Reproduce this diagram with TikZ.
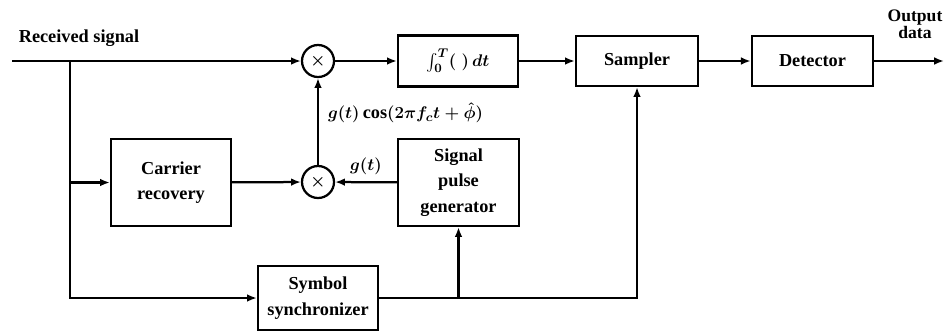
\documentclass[tikz,border=0pt]{standalone}
\usepackage{amsmath}
\usepackage{fontspec}
\setmainfont{Liberation Serif}
\usetikzlibrary{arrows.meta, positioning}

\begin{document}
\begin{tikzpicture}[
  x=0.025cm, y=-0.025cm,
  every node/.style={font=\fontsize{13}{18}\selectfont\bfseries\boldmath},
  line width=1.6pt,
  >={Latex[length=7pt,width=5.5pt]},
  blk/.style={draw, align=center, inner sep=1pt},
  mixer/.style={draw, circle, minimum size=0.8cm, inner sep=0pt}
]
\useasboundingbox (0,0) rectangle (946,331);
% Upper path: mixer, integrator, sampler, detector
\coordinate (in) at (12,61);
\coordinate (br) at (70,61);
\node[anchor=base west] (rxlbl) at (13,42) {Received signal};
\node[mixer] (m1) at (318,61) {$\times$};
\node[blk, minimum width=3cm, minimum height=1.275cm] (integ) at (458,61) {$\int_0^T(\;)\,dt$};
\node[blk, minimum width=3.05cm, minimum height=1.25cm] (samp) at (637,61) {Sampler};
\node[blk, minimum width=3.03cm, minimum height=1.25cm] (det) at (812.5,61) {Detector};
\coordinate (out) at (944,61);
\node[align=center, font=\fontsize{12.5}{12}\selectfont\bfseries] (outlbl) at (915,24) {Output\\data};
% Lower path: carrier recovery and pulse generator
\node[blk, minimum width=3cm, minimum height=2.175cm] (carr) at (171,182.5) {Carrier\\recovery};
\node[mixer] (m2) at (318,182) {$\times$};
\node[blk, minimum width=3.03cm, minimum height=2.175cm] (pulse) at (458.5,182.5) {Signal\\pulse\\generator};
% Timing
\node[blk, minimum width=3cm, minimum height=1.6cm] (sync) at (318,298) {Symbol\\synchronizer};
\coordinate (tap) at (pulse.south |- sync.east);

\draw[->] (in) -- (m1);
\draw[->] (m1) -- (integ);
\draw[->] (integ) -- (samp);
\draw[->] (samp) -- (det);
\draw[->] (det) -- (out);
\draw[->] (br) |- (sync);
\draw[->] (br |- carr.west) -- (carr);
\draw[->] (carr) -- (m2);
\draw[->] (pulse) -- node[above=1pt] {$g(t)$} (m2);
\draw[->] (m2) -- node[anchor=west, pos=0.6, xshift=3pt] {$g(t)\cos(2\pi f_c t+\hat{\phi})$} (m1);
\draw[->] (sync) -| (samp);
\draw[->] (tap) -- (pulse);
\end{tikzpicture}
\end{document}
